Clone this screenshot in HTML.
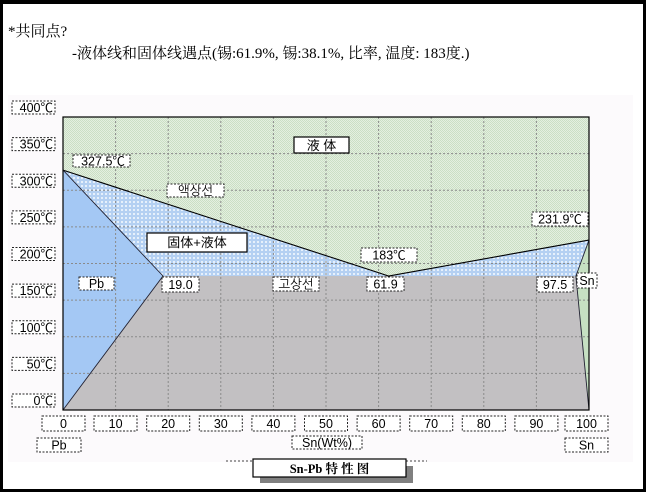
<!DOCTYPE html>
<html>
<head>
<meta charset="utf-8">
<style>
html,body{margin:0;padding:0;background:#fff;}
svg{display:block;}
.hd{font-family:"Liberation Serif","Noto Serif CJK SC",serif;font-size:15px;fill:#000;}
.lb{font-family:"Liberation Sans","NanumGothic","Noto Sans CJK KR",sans-serif;font-size:12.5px;fill:#000;}
.bx{fill:#fff;stroke:#222;stroke-width:1;stroke-dasharray:2,1.5;}
.sb{fill:#fff;stroke:#000;stroke-width:1.2;}
.gr{stroke:#8a8a8a;stroke-width:1;stroke-dasharray:2,2;fill:none;}
</style>
</head>
<body>
<svg width="650" height="497" viewBox="0 0 650 497" xmlns="http://www.w3.org/2000/svg">
<defs>
<pattern id="pg" width="2" height="2" patternUnits="userSpaceOnUse">
<rect width="2" height="2" fill="#e4efe0"/>
<rect width="1" height="1" fill="#cadfc4"/>
<rect x="1" y="1" width="1" height="1" fill="#cadfc4"/>
</pattern>
<pattern id="pb" width="4" height="4" patternUnits="userSpaceOnUse">
<rect width="4" height="4" fill="#b4d0f2"/>
<rect x="1" y="1" width="2" height="2" fill="#e6f0fb"/>
</pattern>
</defs>
<rect x="0" y="0" width="646" height="492" fill="#000"/>
<rect x="3" y="4" width="640" height="485" fill="#fff"/>
<rect x="8" y="95" width="625" height="367" fill="#fcfafc"/>

<text class="hd" x="8" y="36">*共同点?</text>
<text class="hd" x="72" y="58">-液体线和固体线遇点(锡:61.9%, 锡:38.1%, 比率, 温度: 183度.)</text>

<rect x="63" y="117" width="526" height="293" fill="url(#pg)"/>
<polygon points="63,170.1 388.6,276 589,240.1 575.9,276 163,276" fill="url(#pb)"/>
<polygon points="63,170.1 163,276 63,410" fill="#a4c8f4"/>
<polygon points="63,410 163,276 575.9,276 589,410" fill="#c2c0c2"/>
<polygon points="589,240.1 575.9,276 589,410" fill="#c6e0c2"/>

<g class="gr">
<line x1="115.6" y1="117" x2="115.6" y2="410"/>
<line x1="168.2" y1="117" x2="168.2" y2="410"/>
<line x1="220.8" y1="117" x2="220.8" y2="410"/>
<line x1="273.4" y1="117" x2="273.4" y2="410"/>
<line x1="326" y1="117" x2="326" y2="410"/>
<line x1="378.6" y1="117" x2="378.6" y2="410"/>
<line x1="431.2" y1="117" x2="431.2" y2="410"/>
<line x1="483.8" y1="117" x2="483.8" y2="410"/>
<line x1="536.4" y1="117" x2="536.4" y2="410"/>
<line x1="63" y1="373.4" x2="589" y2="373.4"/>
<line x1="63" y1="336.8" x2="589" y2="336.8"/>
<line x1="63" y1="300.1" x2="589" y2="300.1"/>
<line x1="63" y1="263.5" x2="589" y2="263.5"/>
<line x1="63" y1="226.9" x2="589" y2="226.9"/>
<line x1="63" y1="190.2" x2="589" y2="190.2"/>
<line x1="63" y1="153.6" x2="589" y2="153.6"/>
</g>

<polyline points="63,170.1 388.6,276 589,240.1" fill="none" stroke="#000" stroke-width="1.1"/>
<polyline points="63,170.1 163,276 63,410" fill="none" stroke="#223" stroke-width="0.9"/>
<polyline points="589,240.1 575.9,276 589,410" fill="none" stroke="#223" stroke-width="0.9"/>
<rect x="63" y="117" width="526" height="293" fill="none" stroke="#000" stroke-width="1.2"/>

<g>
<rect class="bx" x="12" y="101" width="43" height="13"/><text class="lb" x="53" y="112" text-anchor="end">400℃</text>
<rect class="bx" x="12" y="137.6" width="43" height="13"/><text class="lb" x="53" y="148.6" text-anchor="end">350℃</text>
<rect class="bx" x="12" y="174.3" width="43" height="13"/><text class="lb" x="53" y="185.3" text-anchor="end">300℃</text>
<rect class="bx" x="12" y="210.9" width="43" height="13"/><text class="lb" x="53" y="221.9" text-anchor="end">250℃</text>
<rect class="bx" x="12" y="247.5" width="43" height="13"/><text class="lb" x="53" y="258.5" text-anchor="end">200℃</text>
<rect class="bx" x="12" y="284.1" width="43" height="13"/><text class="lb" x="53" y="295.1" text-anchor="end">150℃</text>
<rect class="bx" x="12" y="320.8" width="43" height="13"/><text class="lb" x="53" y="331.8" text-anchor="end">100℃</text>
<rect class="bx" x="12" y="357.4" width="43" height="13"/><text class="lb" x="53" y="368.4" text-anchor="end">50℃</text>
<rect class="bx" x="12" y="394" width="43" height="13"/><text class="lb" x="53" y="405" text-anchor="end">0℃</text>
</g>

<g text-anchor="middle">
<rect class="bx" x="42" y="416" width="43" height="15"/><text class="lb" x="63.5" y="428">0</text>
<rect class="bx" x="94" y="416" width="43" height="15"/><text class="lb" x="115.6" y="428">10</text>
<rect class="bx" x="146.7" y="416" width="43" height="15"/><text class="lb" x="168.2" y="428">20</text>
<rect class="bx" x="199.3" y="416" width="43" height="15"/><text class="lb" x="220.8" y="428">30</text>
<rect class="bx" x="251.9" y="416" width="43" height="15"/><text class="lb" x="273.4" y="428">40</text>
<rect class="bx" x="304.5" y="416" width="43" height="15"/><text class="lb" x="326" y="428">50</text>
<rect class="bx" x="357.1" y="416" width="43" height="15"/><text class="lb" x="378.6" y="428">60</text>
<rect class="bx" x="409.7" y="416" width="43" height="15"/><text class="lb" x="431.2" y="428">70</text>
<rect class="bx" x="462.3" y="416" width="43" height="15"/><text class="lb" x="483.8" y="428">80</text>
<rect class="bx" x="514.9" y="416" width="43" height="15"/><text class="lb" x="536.4" y="428">90</text>
<rect class="bx" x="565" y="416" width="43" height="15"/><text class="lb" x="586.5" y="428">100</text>
<rect class="bx" x="37" y="438" width="44" height="14"/><text class="lb" x="59" y="449.5">Pb</text>
<rect class="bx" x="565" y="438" width="43" height="14"/><text class="lb" x="586.5" y="449.5">Sn</text>
<rect class="bx" x="292" y="436" width="70" height="13"/><text class="lb" x="327" y="447">Sn(Wt%)</text>
</g>

<g text-anchor="middle">
<rect class="bx" x="73" y="155" width="57" height="12"/><text class="lb" x="103" y="165.5">327.5℃</text>
<rect class="bx" x="167" y="184" width="57" height="13"/><text class="lb" x="195.5" y="195">액상선</text>
<rect class="sb" x="147" y="233" width="100" height="19"/><text class="lb" x="197" y="247" style="font-size:13px;font-family:'Liberation Sans','Noto Sans CJK SC',sans-serif;">固体+液体</text>
<rect class="sb" x="294" y="137" width="55" height="16"/><text class="lb" x="321.5" y="150" style="font-size:13px;font-family:'Liberation Sans','Noto Sans CJK SC',sans-serif;">液 体</text>
<rect class="bx" x="361" y="248" width="56" height="14"/><text class="lb" x="389" y="259.5">183℃</text>
<rect class="bx" x="273" y="277" width="46" height="14"/><text class="lb" x="296" y="288.5">고상선</text>
<rect class="bx" x="367" y="277" width="37" height="14"/><text class="lb" x="385.5" y="288.5">61.9</text>
<rect class="bx" x="162" y="277" width="37" height="15"/><text class="lb" x="180.5" y="289">19.0</text>
<rect class="bx" x="79" y="277" width="35" height="13"/><text class="lb" x="96.5" y="288">Pb</text>
<rect class="bx" x="537" y="277" width="36" height="15"/><text class="lb" x="555" y="289">97.5</text>
<rect class="bx" x="577" y="273" width="20" height="15"/><text class="lb" x="587" y="285">Sn</text>
<rect class="bx" x="532" y="212" width="56" height="14"/><text class="lb" x="560" y="223.5">231.9℃</text>
</g>

<line x1="226" y1="461" x2="427" y2="461" stroke="#444" stroke-width="1" stroke-dasharray="2,2"/>
<rect x="260" y="466" width="153" height="17" fill="#808080"/>
<rect x="253" y="459" width="153" height="18" fill="#fff" stroke="#000" stroke-width="1.2"/>
<text x="329.5" y="473" text-anchor="middle" style="font-family:'Liberation Serif','Noto Serif CJK SC',serif;font-size:12.5px;font-weight:bold;fill:#000;">Sn-Pb 特 性 图</text>
</svg>
</body>
</html>
